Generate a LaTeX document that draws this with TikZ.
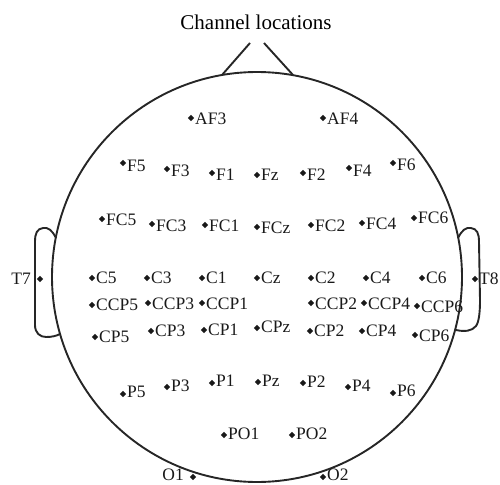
\documentclass[tikz,border=0pt]{standalone}
\usepackage{fontspec}
\setmainfont{Liberation Serif}
\usetikzlibrary{shapes.geometric}
\begin{document}
\begin{tikzpicture}[x=1pt,y=-1pt,
  edot/.style={diamond,fill=black!90,inner sep=0pt,minimum size=6.5pt},
  lab/.style={anchor=west,inner sep=0pt,font=\fontsize{17.5}{17.5}\selectfont,text height=11.4pt,text depth=0pt,text=black!90},
  labl/.style={lab,anchor=east},
  outline/.style={line width=1.9pt,draw=black!85,line join=round}]
\useasboundingbox (0,0) rectangle (500,484);
% title
\node[anchor=base,font=\fontsize{21}{21}\selectfont] (title) at (256,30) {Channel locations};
% head
\draw[outline] (257,277) circle[radius=205];
% nose
\draw[outline] (222,75) -- (250,43);
\draw[outline] (293,75) -- (264,43);
% left ear
\draw[outline] (56,238) .. controls (52,230) and (48,227) .. (43,228)
  .. controls (37,229) and (35,233) .. (35,242) -- (35,325)
  .. controls (35,333) and (40,337) .. (46,337)
  .. controls (52,337) and (56,336) .. (60,334);
% right ear
\draw[outline] (458,238) .. controls (462,230) and (466,227) .. (471,228)
  .. controls (477,229) and (479,233) .. (479,242) -- (480,300)
  .. controls (480,312) and (479,322) .. (476,326)
  .. controls (472,331) and (465,332) .. (456,330);
% electrodes with labels on the right
\foreach \n/\x/\y/\ly in {
  AF3/191/118/119, AF4/323/118/119,
  F5/123/163/166, F3/167/169/171, F1/212/173/175, Fz/257/175/175,
  F2/303/173/175, F4/349/168/171, F6/393/163/165,
  FC5/102/219/220, FC3/152/224/226, FC1/205/225/226, FCz/257/227/228,
  FC2/311/225/226, FC4/362/223/224, FC6/414/218/218,
  C5/92/278/278, C3/147/278/278, C1/202/278/278, Cz/257/278/278,
  C2/311/278/278, C4/366/278/278, C6/422/278/278, T8/475/279/279,
  CCP5/92/305/305, CCP3/148/303/304, CCP1/202/303/304,
  CCP2/311/303/304, CCP4/364/303/304, CCP6/417/306/307,
  CP5/95/337/337, CP3/151/331/331, CP1/204/330/330, CPz/257/328/327,
  CP2/310/331/331, CP4/362/331/331, CP6/415/335/336,
  P5/123/394/392, P3/167/387/386, P1/212/383/381, Pz/258/382/381,
  P2/303/383/382, P4/348/387/386, P6/393/393/391,
  PO1/224/435/434, PO2/292/435/434, O2/323/477/475}
{
  \node[edot] (\n) at (\x,\y) {};
  \node[lab] (\n-lab) at (\x+4,\ly) {\n};
}
% electrodes with labels on the left
\node[edot] (T7) at (40,279) {};
\node[labl] (T7-lab) at (31,279) {T7};
\node[edot] (O1) at (193,477) {};
\node[labl] (O1-lab) at (184,475) {O1};
\end{tikzpicture}
\end{document}
